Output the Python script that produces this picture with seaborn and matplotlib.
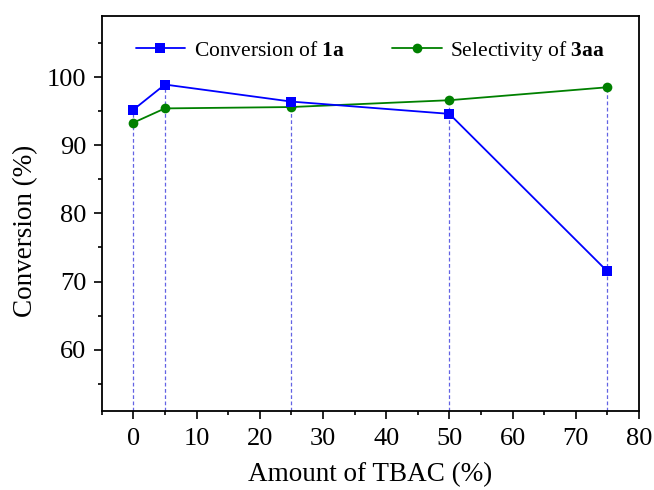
import matplotlib
matplotlib.use('Agg')
import matplotlib.pyplot as plt
import seaborn as sns
import pandas as pd
from matplotlib.ticker import MultipleLocator

# values
tbac = [0, 5, 25, 50, 75]
conversion_1a = [95.2, 98.9, 96.4, 94.6, 71.5]
selectivity_3aa = [93.3, 95.4, 95.6, 96.6, 98.5]

df = pd.DataFrame({'tbac': tbac, 'conv': conversion_1a, 'sel': selectivity_3aa})

sns.set_style('ticks')
plt.rcParams['font.family'] = ['Liberation Serif', 'DejaVu Serif']
plt.rcParams['mathtext.fontset'] = 'custom'
plt.rcParams['mathtext.rm'] = 'Liberation Serif'
plt.rcParams['mathtext.bf'] = 'Liberation Serif:bold'
plt.rcParams['text.color'] = 'black'
plt.rcParams['axes.labelcolor'] = 'black'
plt.rcParams['xtick.color'] = 'black'
plt.rcParams['ytick.color'] = 'black'

fig = plt.figure(figsize=(6.54, 4.9), dpi=100)
ax = fig.add_axes([0.1555, 0.161, 0.8215, 0.807])

ymin, ymax = 51, 109

# drop lines from the points down to the x axis
ax.vlines(df['tbac'], ymin, df[['conv', 'sel']].max(axis=1), colors='#4848e0',
          linestyles=(0, (3, 2)), linewidth=0.9, alpha=0.85, zorder=1)

sns.lineplot(data=df, x='tbac', y='conv', ax=ax, color='#0000ff', marker='s',
             markersize=7, markeredgewidth=0, linewidth=1.3,
             label=r'Conversion of $\mathbf{1a}$', zorder=3)
sns.lineplot(data=df, x='tbac', y='sel', ax=ax, color='#008000', marker='o',
             markersize=7, markeredgewidth=0, linewidth=1.3,
             label=r'Selectivity of $\mathbf{3aa}$', zorder=2)

ax.set_xlim(-5, 80)
ax.set_ylim(ymin, ymax)
ax.xaxis.set_major_locator(MultipleLocator(10))
ax.xaxis.set_minor_locator(MultipleLocator(5))
ax.yaxis.set_minor_locator(MultipleLocator(5))
ax.set_yticks([60, 70, 80, 90, 100])
ax.tick_params(which='major', direction='out', length=6, width=1.2, labelsize=19,
               labelcolor='black', color='black')
ax.tick_params(axis='x', which='major', pad=6)
ax.tick_params(axis='y', which='major', pad=5)
ax.tick_params(which='minor', direction='out', length=3, width=1.2, color='black')
for s in ax.spines.values():
    s.set_linewidth(1.3)
    s.set_color('black')

ax.set_xlabel('Amount of TBAC (%)', fontsize=19.5, labelpad=9)
ax.set_ylabel('Conversion (%)', fontsize=19.5, labelpad=6, y=0.455)

ax.legend(loc='upper center', bbox_to_anchor=(0.5, 0.99), ncol=2, frameon=False,
          fontsize=15.5, handlelength=2.3, columnspacing=2.2, handletextpad=0.4)

plt.savefig('out.png', dpi=100)
plt.close()
